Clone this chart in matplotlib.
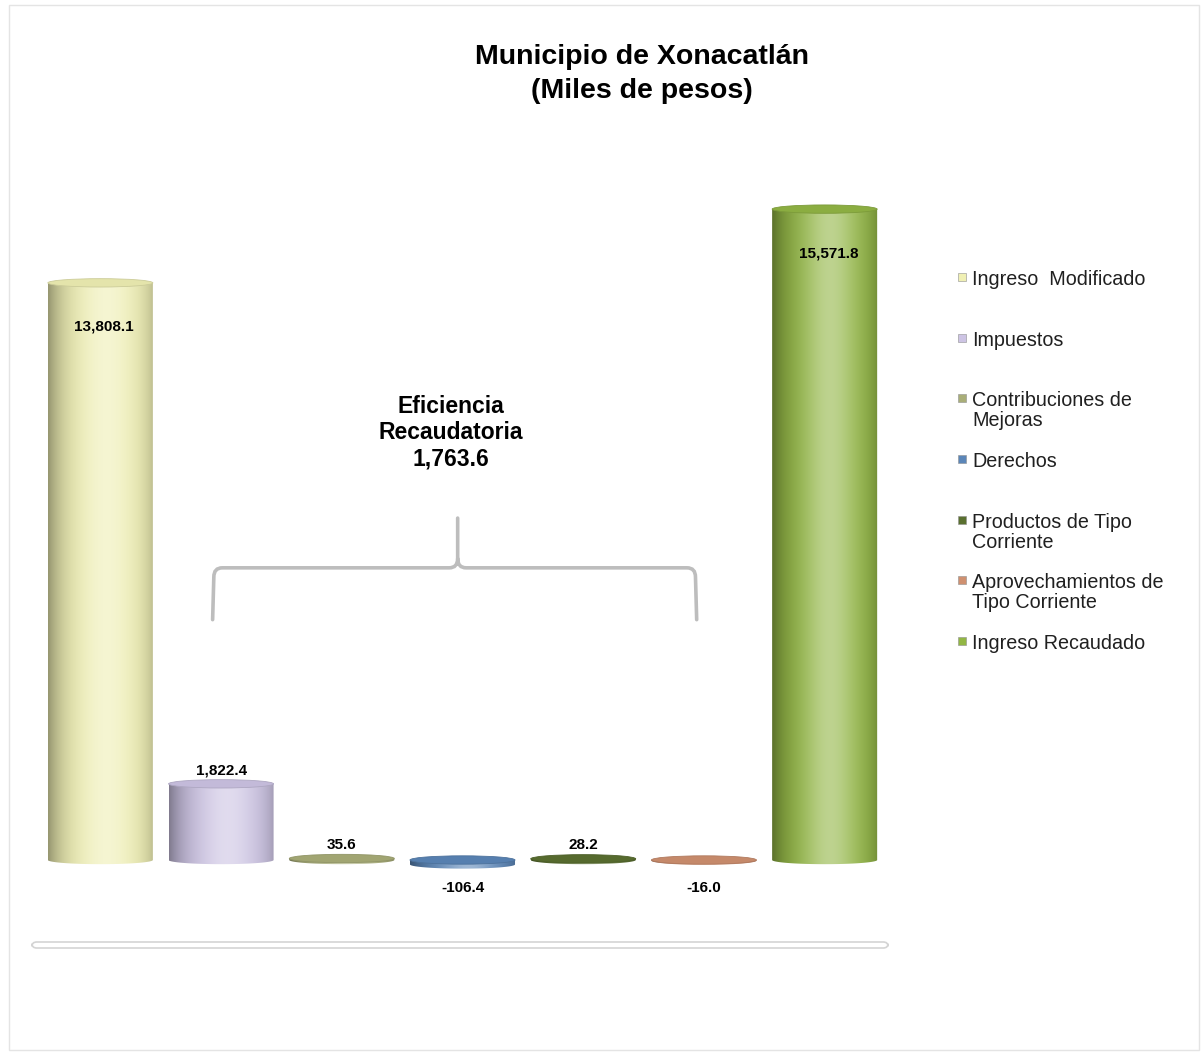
import numpy as np
import matplotlib
matplotlib.use("Agg")
import matplotlib.pyplot as plt
from matplotlib.patches import Ellipse, PathPatch, FancyBboxPatch, Rectangle
from matplotlib.path import Path
from matplotlib.colors import to_rgb

plt.rcParams['font.family'] = ['Liberation Sans', 'DejaVu Sans']

# datos
categorias = ["Ingreso  Modificado", "Impuestos", "Contribuciones de\nMejoras", "Derechos",
              "Productos de Tipo\nCorriente", "Aprovechamientos de\nTipo Corriente", "Ingreso Recaudado"]
valores = [13808.1, 1822.4, 35.6, -106.4, 28.2, -16.0, 15571.8]
etiquetas = ["13,808.1", "1,822.4", "35.6", "-106.4", "28.2", "-16.0", "15,571.8"]
colores = ["#f0f0b4", "#cdc4e4", "#a9ae78", "#5b86b8", "#5a7030", "#cf9070", "#92b644"]
eficiencia = "Eficiencia\nRecaudatoria\n1,763.6"

W, H = 1204, 1053
fig = plt.figure(figsize=(W / 100, H / 100), dpi=100)
ax = fig.add_axes([40 / W, 153 / H, 845 / W, 700 / H])
ax.set_xlim(-0.5, 6.5)
ax.set_ylim(-957, 15790)
ax.axis('off')

ancho = 0.87
elip = 200  # alto de la elipse en unidades de datos


def gradiente(base):
    base = np.array(to_rgb(base))
    t = np.linspace(0, 1, 256)
    luz = np.exp(-((t - 0.55) / 0.25) ** 2)
    oscuro = 0.38 * (1 - t) ** 6 + 0.22 * t ** 8
    col = base[None, :] * (1 - oscuro[:, None])
    col = col + (1 - col) * 0.4 * luz[:, None]
    return np.clip(col, 0, 1)[None, :, :]


def cilindro(ax, x, h, color):
    y0, y1 = min(0, h), max(0, h)
    w = ancho / 2
    th = np.linspace(np.pi, 2 * np.pi, 60)
    verts = [(x - w, y1), (x - w, y0)]
    verts += [(x + w * np.cos(a), y0 + elip / 2 * np.sin(a)) for a in th]
    verts += [(x + w, y1), (x - w, y1)]
    codes = [Path.MOVETO] + [Path.LINETO] * (len(verts) - 2) + [Path.CLOSEPOLY]
    patch = PathPatch(Path(verts, codes), facecolor='none', edgecolor='none')
    ax.add_patch(patch)
    im = ax.imshow(gradiente(color), extent=[x - w, x + w, y0 - elip, y1], aspect='auto',
                   interpolation='bicubic', zorder=2)
    im.set_clip_path(patch)
    base = np.array(to_rgb(color))
    tapa = base * 0.95
    ax.add_patch(Ellipse((x, y1), 2 * w, elip, facecolor=tapa,
                         edgecolor=base * 0.85, lw=0.6, zorder=3))


for i, (v, c) in enumerate(zip(valores, colores)):
    cilindro(ax, i, v, c)

ax.set_xlim(-0.5, 6.5)
ax.set_ylim(-957, 15790)

# etiquetas de valores
for i, (v, t) in enumerate(zip(valores, etiquetas)):
    if v > 10000:
        ax.text(i + 0.03, v - 1050, t, ha='center', va='center', fontsize=11, fontweight='bold')
    elif v >= 0:
        ax.text(i, max(v, 0) + 160, t, ha='center', va='bottom', fontsize=11, fontweight='bold')
    else:
        ax.text(i, -680, t, ha='center', va='center', fontsize=11, fontweight='bold')

# llave de eficiencia
xl, xr, xc = 0.94, 4.93, 2.96
yb, yh, yt = 5750, 6990, 8180
r = 0.07
ry = 220
llave = [(xl - 0.01, yb), (xl, yh - ry), (xl, yh), (xl + r, yh), (xc - r, yh), (xc, yh),
         (xc, yh + ry), (xc, yt), (xc, yh + ry), (xc, yh), (xc + r, yh), (xr - r, yh),
         (xr, yh), (xr, yh - ry), (xr + 0.01, yb)]
cod = [Path.MOVETO, Path.LINETO, Path.CURVE3, Path.CURVE3, Path.LINETO, Path.CURVE3, Path.CURVE3,
       Path.LINETO, Path.MOVETO, Path.CURVE3, Path.CURVE3, Path.LINETO, Path.CURVE3, Path.CURVE3,
       Path.LINETO]
ax.add_patch(PathPatch(Path(llave, cod), facecolor='none', edgecolor='#bdbdbd', lw=2.6,
                       capstyle='round', zorder=1))
ax.text(xc - 0.06, 10220, eficiencia, ha='center', va='center', fontsize=16.5,
        fontweight='bold', linespacing=1.17)

# titulo
fig.text(642 / W, 1 - 74 / H, "Municipio de Xonacatlán\n(Miles de pesos)", ha='center',
         va='center', fontsize=20.5, fontweight='bold', linespacing=1.45)

# leyenda
ley_y = [277, 338, 398, 459, 520, 580, 641]
for c, lab, y in zip(colores, categorias, ley_y):
    fig.patches.append(Rectangle((958 / W, 1 - (y + 4) / H), 8 / W, 8 / H,
                                 transform=fig.transFigure, facecolor=c,
                                 edgecolor='#909090', lw=0.4))
    fig.text(972 / W, 1 - (y - 7) / H, lab, ha='left', va='top', fontsize=14.2,
             linespacing=1.1, color='#202020')

# marcos
fig.patches.append(Rectangle((9 / W, 3 / H), 1190 / W, 1045 / H, transform=fig.transFigure,
                             facecolor='none', edgecolor='#e4e4e4', lw=1))
fig.patches.append(FancyBboxPatch((32 / W, 1 - 948 / H), 856 / W, 6 / H,
                                  boxstyle="round,pad=0,rounding_size=0.004",
                                  transform=fig.transFigure, facecolor='white',
                                  edgecolor='#d4d4d4', lw=1.2))

fig.savefig("out.png", dpi=100)
